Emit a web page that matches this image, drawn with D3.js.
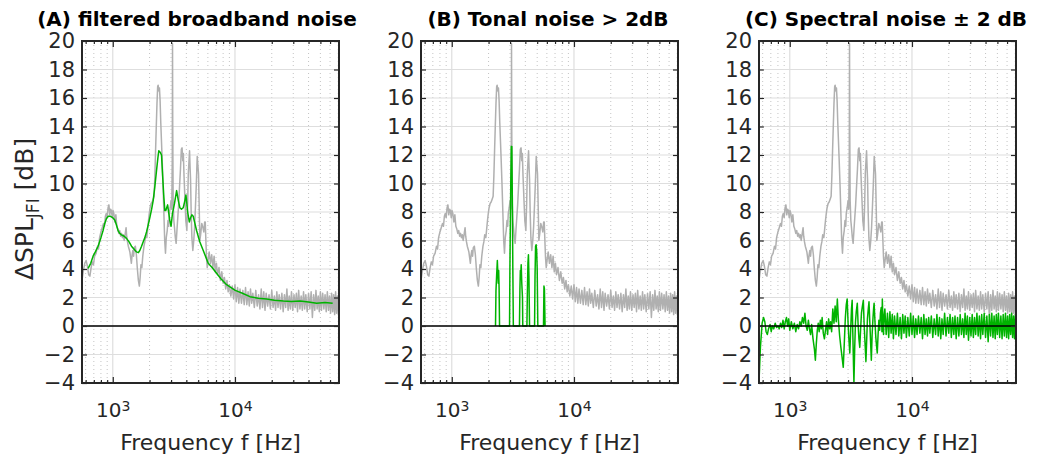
<!DOCTYPE html>
<html>
<head>
<meta charset="utf-8">
<script src="https://cdn.jsdelivr.net/npm/d3@7"></script>
<style>
  body { margin: 0; background: #fff; }
  svg { display: block; }
</style>
</head>
<body>
<script>
// grey reference spectrum, low/mid band (Hz, dB)
var freqGrey = [560, 575, 590, 605, 620, 635, 650, 665, 680, 695, 710, 730, 750, 765, 780, 800, 820, 840, 855, 870,
    885, 900, 915, 930, 945, 960, 975, 990, 1005, 1020, 1040, 1060, 1080, 1100, 1120, 1140, 1160, 1180, 1200, 1220,
    1240, 1260, 1285, 1300, 1320, 1340, 1360, 1380, 1400, 1420, 1440, 1460, 1480, 1500, 1530, 1560, 1590, 1620, 1650, 1675,
    1700, 1730, 1760, 1800, 1830, 1860, 1900, 1930, 1960, 1990, 2020, 2060, 2100, 2140, 2180, 2210, 2240, 2270, 2300, 2330,
    2350, 2380, 2410, 2440, 2470, 2500, 2540, 2580, 2620, 2660, 2700, 2740, 2790, 2830, 2870, 2900, 2950, 3000, 3040, 3070,
    3083, 3095, 3120, 3160, 3200, 3250, 3300, 3350, 3410, 3460, 3520, 3580, 3640, 3690, 3740, 3780, 3830, 3900, 3960, 4040,
    4100, 4150, 4200, 4250, 4290, 4330, 4380, 4440, 4520, 4600, 4670, 4750, 4820, 4870, 4910, 4970, 5030, 5100, 5160, 5250,
    5350, 5470, 5560, 5650, 5710, 5780, 5850, 5930];
var splGrey = [3.2, 3.9, 4.4, 4.6, 4.2, 3.6, 3.5, 4.1, 4.5, 4.3, 4.9, 5.1, 5.6, 5.4, 6.2, 6.6, 6.9, 7.2, 7.0, 7.7,
    7.9, 7.6, 8.3, 8.5, 7.8, 8.2, 8.1, 7.6, 8.1, 7.9, 7.3, 7.8, 7.0, 6.8, 6.5, 6.7, 6.3, 6.5, 6.2, 6.4,
    6.0, 6.4, 6.9, 6.3, 5.9, 5.6, 5.4, 5.2, 4.8, 4.4, 5.0, 5.3, 4.9, 5.5, 5.6, 5.0, 4.0, 3.2, 2.8, 3.4,
    4.3, 4.1, 4.9, 5.6, 5.9, 6.4, 6.2, 6.8, 7.4, 7.9, 8.3, 8.6, 8.7, 8.9, 9.1, 10.5, 12.3, 14.0, 15.6, 16.8,
    16.9, 16.5, 16.7, 15.8, 14.3, 13.1, 11.5, 9.8, 7.9, 6.0, 5.1, 6.2, 6.7, 7.4, 7.0, 7.9, 8.3, 8.8, 8.2, 12.0,
    19.8, 14.0, 8.8, 7.4, 6.9, 6.2, 5.8, 6.7, 7.7, 8.5, 9.8, 11.0, 12.4, 12.5, 11.6, 12.1, 10.5, 8.8, 7.4, 6.7,
    8.6, 10.7, 11.5, 12.3, 11.2, 10.3, 8.0, 6.2, 5.3, 6.0, 6.9, 8.4, 9.8, 11.0, 11.9, 11.3, 10.7, 8.2, 6.0, 6.5,
    7.2, 6.9, 6.6, 7.3, 7.3, 6.0, 4.8, 4.1];

// high band, shared by grey spectrum and panel C residual
var hfFreq = [6000, 6150, 6300, 6450, 6600, 6750, 6900, 7050, 7200,
    7400, 7600, 7800, 8000, 8200, 8400, 8600, 8800, 9000,
    9250, 9500, 9750, 10000,
    10250, 10500, 10750, 11000,
    11300, 11600, 11900, 12200, 12500, 12800, 13100, 13400, 13700, 14000,
    14400, 14800, 15200, 15600, 16000, 16400, 16800, 17200, 17600, 18000,
    18500, 19000, 19500, 20000, 20500, 21000, 21500, 22000, 22500, 23000,
    23600, 24200, 24800, 25400, 26000, 26600, 27200, 27800, 28400, 29000,
    29700, 30400, 31100, 31800, 32500, 33200, 34000,
    34800, 35600, 36400, 37200, 38000,
    39000, 40000, 41000, 42000, 43000, 44000, 45000, 46000, 47000, 48000, 49000, 50000, 51000,
    52200, 53400, 54600, 55800, 57000, 58200, 59400, 60600, 61800, 63000, 64200, 65400, 66600, 67800, 69000, 70200, 71400];
var hfGrey = [4.5, 5.2, 4.4, 5.0, 4.1, 4.9, 3.8, 4.4, 3.6,
    4.1, 3.2, 3.8, 3.0, 3.4, 2.6, 3.2, 2.4, 2.9,
    2.1, 2.8, 1.9, 2.9,
    1.7, 2.7, 1.6, 2.6,
    1.6, 2.5, 1.5, 2.7, 1.5, 2.4, 1.4, 2.6, 1.6, 2.3,
    1.3, 2.5, 1.4, 2.2, 1.2, 2.6, 1.3, 2.4, 1.1, 2.3,
    1.4, 2.2, 1.2, 2.5, 1.3, 2.1, 1.1, 2.4, 1.3, 2.2,
    1.2, 2.3, 1.0, 2.2, 1.3, 2.6, 1.1, 2.1, 1.2, 2.4,
    1.1, 2.2, 1.3, 2.3, 1.0, 2.5, 1.2,
    2.1, 1.1, 2.4, 1.2, 2.2,
    1.0, 2.3, 1.2, 2.4, 0.6, 2.2, 1.1, 2.5, 1.2, 2.1, 1.0, 2.4, 1.1,
    2.3, 1.2, 2.2, 1.0, 2.4, 1.1, 2.1, 0.9, 2.3, 1.0, 2.2, 0.8, 2.4, 0.9, 2.1, 0.8, 2.0];
var hfGreenC = [1.2, -0.6, 0.9, -0.8, 1.0, -0.5, 0.8, -0.9, 0.7,
    -0.6, 0.9, -0.7, 0.6, -0.9, 0.8, -0.5, 0.7, -0.8,
    0.6, -0.7, 0.9, -0.6,
    0.7, -0.8, 0.5, -0.6,
    0.7, -0.5, 0.6, -0.9, 0.8, -0.6, 0.5, -0.7, 0.6, -0.5,
    0.7, -0.8, 0.5, -0.6, 0.8, -0.7, 0.6, -0.9, 0.5, -0.6,
    0.9, -0.7, 0.6, -0.5, 0.8, -0.8, 0.6, -0.6, 0.7, -0.9,
    0.6, -0.7, 0.8, -0.6, 0.5, -0.8, 0.9, -0.6, 0.7, -1.0,
    0.6, -0.7, 0.8, -0.8, 0.6, -0.6, 0.9,
    -0.7, 0.7, -0.9, 0.8, -0.6,
    0.9, -0.8, 0.7, -1.1, 0.8, -0.7, 0.9, -0.8, 0.7, -0.9, 0.8, -0.6, 0.9,
    -0.8, 0.7, -0.9, 0.8, -0.7, 0.9, -0.8, 0.7, -0.9, 0.8, -0.6, 0.9, -0.8, 0.7, -0.9, 0.8, -0.7];

// (A) smoothed broadband part
var freqGreenA = [628, 660, 690, 720, 758, 800, 833, 860, 888, 920, 957, 1000, 1038, 1070, 1105, 1140, 1178, 1240, 1295, 1360,
    1423, 1490, 1563, 1620, 1664, 1720, 1772, 1830, 1889, 1950, 2011, 2080, 2141, 2210, 2280, 2340, 2380, 2440, 2506, 2560,
    2620, 2667, 2715, 2810, 2930, 3000, 3080, 3200, 3330, 3440, 3540, 3650, 3770, 3870, 3970, 4100, 4230, 4330, 4440, 4550,
    4700, 4850, 5160, 5500, 6040, 6500, 7070, 7700, 8540, 9300, 10040, 11500, 13250, 15500, 18160, 21000, 24900, 29000, 34000, 40000,
    46600, 54500, 60000, 63000];
var splGreenA = [4.05, 4.4, 4.9, 5.2, 5.6, 6.2, 6.7, 7.2, 7.55, 7.7, 7.7, 7.6, 7.44, 7.1, 6.7, 6.5, 6.4, 6.3, 6.15, 5.9,
    5.6, 5.4, 5.2, 5.15, 5.3, 5.6, 5.9, 6.2, 6.6, 7.1, 7.6, 8.2, 8.8, 9.8, 10.9, 11.8, 12.3, 12.2, 12.0, 10.5,
    9.0, 8.1, 8.1, 8.5, 7.4, 7.0, 7.9, 8.6, 9.5, 8.8, 8.3, 8.2, 8.3, 8.7, 9.2, 8.0, 7.3, 7.6, 7.8, 7.7,
    7.2, 6.7, 5.9, 5.3, 4.4, 4.1, 3.7, 3.3, 2.9, 2.7, 2.5, 2.3, 2.06, 1.95, 1.9, 1.8, 1.75, 1.72, 1.75, 1.68,
    1.6, 1.65, 1.62, 1.6];

// (B) tonal components above 2 dB
var freqGreenB = [2280, 2300, 2330, 2360, 2380, 2400, 2420, 2440, 2460,
    2970, 2990, 3010, 3040, 3070, 3100, 3130, 3160, 3190,
    3580, 3610, 3640, 3670, 3700, 3740, 3790, 3810,
    4120, 4150, 4200, 4240, 4280, 4330,
    4760, 4800, 4850, 4900, 4950, 5000, 5060,
    5630, 5680, 5730, 5800];
var splGreenB = [0, 2.5, 3.6, 4.6, 3.8, 3.0, 3.9, 2.6, 0,
    0, 4.0, 6.5, 10.0, 12.6, 12.6, 9.0, 4.0, 0,
    0, 2.5, 3.9, 3.7, 4.3, 3.0, 2.0, 0,
    0, 2.0, 4.4, 5.0, 3.5, 0,
    0, 3.5, 5.6, 5.7, 5.3, 4.0, 0,
    0, 2.8, 2.6, 0];

// (C) spectral residual, low/mid band
var freqGreenC = [560, 575, 594, 610, 625, 640, 655, 670, 690, 705, 720, 740, 760, 780, 800, 820, 840, 860, 880, 900,
    920, 940, 960, 980, 1000, 1030, 1060, 1090, 1120, 1150, 1180, 1210, 1240, 1270, 1300, 1330, 1360, 1390, 1420, 1450,
    1480, 1510, 1550, 1590, 1620, 1650, 1680, 1710, 1740, 1780, 1810, 1840, 1880, 1920, 1960, 2000, 2040, 2080, 2120, 2160,
    2200, 2250, 2300, 2350, 2400, 2450, 2500, 2560, 2620, 2680, 2740, 2800, 2850, 2900, 2950, 3000, 3050, 3100, 3150, 3200,
    3240, 3280, 3320, 3350, 3400, 3450, 3500, 3570, 3620, 3680, 3740, 3800, 3860, 3930, 4000, 4060, 4130, 4200, 4260, 4320,
    4390, 4450, 4520, 4590, 4650, 4720, 4800, 4860, 4900, 4980, 5060, 5130, 5200, 5280, 5360, 5440, 5520, 5600, 5680, 5720,
    5780, 5850, 5930];
var splGreenC = [-3.9, -1.5, 0.2, 0.6, 0.3, -0.4, -0.6, -0.2, 0.1, -0.4, 0.0, -0.2, 0.2, -0.1, 0.0, -0.2, 0.2, -0.1, 0.4, -0.2,
    0.3, 0.6, 0.0, 0.5, -0.3, 0.3, -0.2, 0.2, -0.4, 0.1, -0.2, 0.3, 0.0, 0.6, 0.2, 0.9, 0.0, -0.3, 0.4, -0.2,
    -0.6, 0.1, -0.9, -1.6, -2.4, -1.2, -0.3, 0.2, -0.4, 0.4, -0.2, 0.6, -0.5, -0.9, -0.3, 0.3, -0.6, 0.5, -0.2, 0.3,
    -0.4, 1.2, 0.2, 1.4, 0.3, 1.9, 0.4, -0.7, -1.5, -2.2, -2.9, -1.0, 0.6, 1.5, 1.9, 0.2, -1.0, -1.9, -0.3, 1.2,
    1.8, -0.5, -2.6, -4.0, -1.5, 0.3, 1.0, 1.6, 0.2, -0.9, -1.5, -0.2, 0.9, 1.4, 1.8, 0.1, -1.2, -2.5, -1.0, 0.5,
    1.2, 1.7, 0.2, -1.2, -2.4, -0.6, 0.6, 1.3, 1.6, 0.3, -0.8, -1.4, -1.9, -0.6, 0.4, -0.3, 0.9, 1.3, -0.4, 1.9,
    0.4, -0.6, 0.8];

var titles = ['(A) filtered broadband noise', '(B) Tonal noise > 2dB', '(C) Spectral noise \u00b1 2 dB'];
var yTicks = [-4, -2, 0, 2, 4, 6, 8, 10, 12, 14, 16, 18, 20];
var xMajor = [1000, 10000];
var xMinor = [600, 700, 800, 900, 2000, 3000, 4000, 5000, 6000, 7000, 8000, 9000,
    20000, 30000, 40000, 50000, 60000, 70000];

var svgWidth = 1044;
var svgHeight = 460;
var plotTop = 41;
var plotBottom = 383;
var plotWidth = 257;
var panelLeft = [82, 421, 759];
var titleCenter = [197, 548, 886];
var fontFamily = '"DejaVu Sans", "Liberation Sans", Arial, sans-serif';
var textColor = '#262626';
var greyColor = '#b0b0b0';
var greenColor = '#00b300';

function zip(fs, vs) {
    return fs.map(function(f, i) { return [f, vs[i]]; });
}

var greySeries = zip(freqGrey.concat(hfFreq), splGrey.concat(hfGrey));
var greenSeries = [
    zip(freqGreenA, splGreenA),
    zip(freqGreenB, splGreenB),
    zip(freqGreenC.concat(hfFreq), splGreenC.concat(hfGreenC))
];

var svg = d3.select('body').append('svg')
    .attr('width', svgWidth)
    .attr('height', svgHeight);

var yScale = d3.scaleLinear()
    .domain([-4, 20])
    .range([plotBottom, plotTop]);

function styleAxis(g) {
    g.select('.domain').remove();
    g.selectAll('.tick line').attr('stroke', textColor).attr('stroke-width', 1.2);
    g.selectAll('.tick text').attr('fill', textColor);
    g.attr('font-family', fontFamily);
}

function drawPanel(idx) {
    var left = panelLeft[idx];
    var xScale = d3.scaleLog()
        .domain([560, 71000])
        .range([left, left + plotWidth]);

    var g = svg.append('g');

    // clip for lines
    var clipId = 'clip' + idx;
    g.append('clipPath').attr('id', clipId)
        .append('rect')
        .attr('x', left).attr('y', plotTop)
        .attr('width', plotWidth).attr('height', plotBottom - plotTop);

    // minor grid (dotted verticals)
    g.selectAll('.minor-grid')
        .data(xMinor)
        .enter()
        .append('line')
        .attr('x1', function(d) { return xScale(d); })
        .attr('x2', function(d) { return xScale(d); })
        .attr('y1', plotTop)
        .attr('y2', plotBottom)
        .attr('stroke', '#c4c4c4')
        .attr('stroke-width', 1)
        .attr('stroke-dasharray', '1,3');

    // major grid
    g.selectAll('.hgrid')
        .data(yTicks)
        .enter()
        .append('line')
        .attr('x1', left)
        .attr('x2', left + plotWidth)
        .attr('y1', function(d) { return yScale(d); })
        .attr('y2', function(d) { return yScale(d); })
        .attr('stroke', '#dedede')
        .attr('stroke-width', 1.2);

    g.selectAll('.vgrid')
        .data(xMajor)
        .enter()
        .append('line')
        .attr('x1', function(d) { return xScale(d); })
        .attr('x2', function(d) { return xScale(d); })
        .attr('y1', plotTop)
        .attr('y2', plotBottom)
        .attr('stroke', '#dedede')
        .attr('stroke-width', 1.2);

    var line = d3.line()
        .x(function(d) { return xScale(d[0]); })
        .y(function(d) { return yScale(d[1]); });

    var lines = g.append('g').attr('clip-path', 'url(#' + clipId + ')');

    lines.append('path')
        .datum(greySeries)
        .attr('d', line)
        .attr('fill', 'none')
        .attr('stroke', greyColor)
        .attr('stroke-width', 1.5)
        .attr('stroke-linejoin', 'round');

    lines.append('path')
        .datum(greenSeries[idx])
        .attr('d', line)
        .attr('fill', 'none')
        .attr('stroke', greenColor)
        .attr('stroke-width', 1.5)
        .attr('stroke-linejoin', 'round');

    // zero line
    g.append('line')
        .attr('x1', left)
        .attr('x2', left + plotWidth)
        .attr('y1', yScale(0))
        .attr('y2', yScale(0))
        .attr('stroke', '#000')
        .attr('stroke-width', 1.6);

    // left axis with labels
    var yAxis = d3.axisLeft(yScale)
        .tickValues(yTicks)
        .tickSize(-5)
        .tickSizeOuter(0)
        .tickPadding(7);
    g.append('g')
        .attr('transform', 'translate(' + left + ',0)')
        .call(yAxis)
        .call(styleAxis)
        .attr('font-size', 21);

    // right axis ticks
    g.append('g')
        .attr('transform', 'translate(' + (left + plotWidth) + ',0)')
        .call(d3.axisRight(yScale).tickValues(yTicks).tickSize(-5).tickSizeOuter(0).tickFormat(''))
        .call(styleAxis);

    // bottom axis: majors with 10^n labels
    var xAxis = d3.axisBottom(xScale)
        .tickValues(xMajor)
        .tickSize(-6)
        .tickSizeOuter(0)
        .tickPadding(20);
    var bottom = g.append('g')
        .attr('transform', 'translate(0,' + plotBottom + ')')
        .call(xAxis)
        .call(styleAxis)
        .attr('font-size', 20);
    bottom.selectAll('.tick text').each(function(d) {
        var t = d3.select(this);
        t.text('');
        t.append('tspan').text('10');
        t.append('tspan')
            .attr('dy', '-0.45em')
            .attr('font-size', 14)
            .text(Math.round(Math.log10(d)));
    });

    g.append('g')
        .attr('transform', 'translate(0,' + plotBottom + ')')
        .call(d3.axisBottom(xScale).tickValues(xMinor).tickSize(-3).tickSizeOuter(0).tickFormat(''))
        .call(styleAxis);

    // top axis ticks
    g.append('g')
        .attr('transform', 'translate(0,' + plotTop + ')')
        .call(d3.axisTop(xScale).tickValues(xMajor).tickSize(-6).tickSizeOuter(0).tickFormat(''))
        .call(styleAxis);
    g.append('g')
        .attr('transform', 'translate(0,' + plotTop + ')')
        .call(d3.axisTop(xScale).tickValues(xMinor).tickSize(-3).tickSizeOuter(0).tickFormat(''))
        .call(styleAxis);

    // axes box
    g.append('rect')
        .attr('x', left)
        .attr('y', plotTop)
        .attr('width', plotWidth)
        .attr('height', plotBottom - plotTop)
        .attr('fill', 'none')
        .attr('stroke', textColor)
        .attr('stroke-width', 2);

    // title
    g.append('text')
        .attr('x', titleCenter[idx])
        .attr('y', 26)
        .attr('text-anchor', 'middle')
        .attr('font-family', fontFamily)
        .attr('font-weight', 'bold')
        .attr('font-size', 20)
        .attr('fill', '#000')
        .text(titles[idx]);

    // x-axis label
    g.append('text')
        .attr('x', left + plotWidth / 2)
        .attr('y', 450)
        .attr('text-anchor', 'middle')
        .attr('font-family', fontFamily)
        .attr('font-size', 22)
        .attr('fill', textColor)
        .text('Frequency f [Hz]');
}

for (var i = 0; i < 3; i++) {
    drawPanel(i);
}

// y-axis label (first panel only)
var ylab = svg.append('text')
    .attr('transform', 'translate(33,209) rotate(-90)')
    .attr('text-anchor', 'middle')
    .attr('font-family', fontFamily)
    .attr('font-size', 25)
    .attr('fill', textColor);
ylab.append('tspan').text('\u0394SPL');
ylab.append('tspan').attr('dy', 6).attr('font-size', 17).text('JFI');
ylab.append('tspan').attr('dy', -6).text(' [dB]');
</script>
</body>
</html>
